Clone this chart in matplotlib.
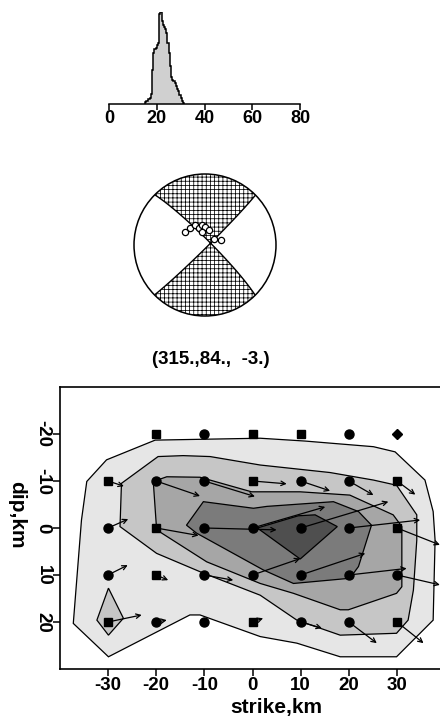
import numpy as np
import matplotlib
matplotlib.use('Agg')
import matplotlib.pyplot as plt
from matplotlib.patches import Polygon, Circle

plt.rcParams['font.family'] = ['Liberation Sans', 'DejaVu Sans']
plt.rcParams['font.weight'] = 'bold'
plt.rcParams['hatch.linewidth'] = 0.55

# ---------------- data ----------------
# histogram (top)
hist_edges = [15.0, 15.5, 16.0, 16.5, 17.0, 17.5, 18.0, 18.5, 19.0, 19.5, 20.0,
              20.5, 21.0, 21.5, 22.0, 22.5, 23.0, 23.5, 24.0, 24.5, 25.0, 25.5,
              26.0, 26.5, 27.0, 27.5, 28.0, 28.5, 29.0, 29.5, 30.0, 30.5, 31.0, 31.5]
hist_counts = [5, 8, 10, 14, 18, 30, 103, 155, 165, 170, 178, 185, 272, 278,
               250, 238, 232, 226, 213, 185, 153, 113, 80, 72, 68, 62, 53, 46,
               38, 28, 18, 10, 4]
hist_ticks = [0, 20, 40, 60, 80]

# focal mechanism (strike, dip, rake)
bb_strike, bb_dip, bb_rake = 315.0, 84.0, -3.0
bb_pts_x = [-0.28, -0.21, -0.14, -0.09, -0.04, 0.00, 0.05, -0.04, 0.12, 0.23]
bb_pts_y = [0.19, 0.24, 0.28, 0.24, 0.28, 0.26, 0.21, 0.19, 0.09, 0.07]

# slip contour polygons (strike km, dip km), lowest level first
lev1_x = [-20.2, 1.6, 10.9, 16.8, 25.1, 29.6, 35.8, 37.5, 37.9, 37.5, 29.9, 18.2,
          9.2, 1.6, -10.9, -13.0, -29.9, -37.2, -35.5, -34.4, -30.3]
lev1_y = [-18.7, -19.1, -18.5, -18.0, -17.3, -16.2, -10.2, -3.5, 2.6, 19.6, 27.4,
          27.4, 24.5, 23.1, 18.5, 18.5, 27.4, 20.3, -1.7, -9.9, -14.5]
lev2_x = [-27.2, -19.6, -14.4, -8.8, 1.6, 16.1, 25.1, 29.9, 34.1, 34.1, 33.4, 32.3,
          29.9, 18.2, 9.2, 1.6, -10.2, -19.9, -27.5]
lev2_y = [-9.5, -15.2, -15.4, -15.2, -13.4, -11.8, -10.2, -9.1, -2.8, 2.6, 13.2,
          19.6, 22.4, 22.8, 19.6, 14.3, 9.6, 5.4, -0.3]
lev2b_x = [-29.9, -26.8, -29.9, -32.3]
lev2b_y = [12.8, 19.2, 22.8, 19.6]
lev3_x = [-20.6, -17.8, -10.9, -0.2, 9.9, 20.2, 29.2, 31.0, 31.0, 29.9, 19.9, 18.2,
          8.5, 1.6, -9.5, -19.9]
lev3_y = [-9.9, -10.9, -10.8, -7.7, -7.7, -7.0, -2.8, -0.3, 12.5, 13.9, 17.4, 17.4,
          13.9, 11.8, 7.2, 0.4]
lev4_x = [-10.2, 0.2, 3.0, 16.8, 22.0, 24.7, 22.0, 20.2, 8.5, 2.2, -11.6, -13.7]
lev4_y = [-5.6, -4.2, -4.6, -5.6, -3.5, -0.6, 8.2, 10.7, 11.8, 8.9, 1.1, -0.6]
lev5_x = [1.0, 9.5, 13.0, 17.6, 9.9]
lev5_y = [0.0, -2.6, -2.8, -0.3, 6.6]
lev_colors = ['#e6e6e6', '#c6c6c6', '#a6a6a6', '#7b7b7b', '#4f4f4f']

# grid nodes with slip vectors
pt_strike = [-20, -10, 0, 10, 20, 30,
             -30, -20, -10, 0, 10, 20, 30,
             -30, -20, -10, 0, 10, 20, 30,
             -30, -20, -10, 0, 10, 20, 30,
             -30, -20, -10, 0, 10, 20, 30]
pt_dip = [-20] * 6 + [-10] * 7 + [0] * 7 + [10] * 7 + [20] * 7
pt_shape = ['s', 'o', 's', 's', 'o', 'D',
            's', 'o', 'o', 's', 'o', 'o', 's',
            'o', 's', 'o', 'o', 'o', 'o', 's',
            'o', 's', 'o', 'o', 'o', 'o', 'o',
            's', 'o', 'o', 's', 'o', 'o', 's']
slip_dx = [0, 0, 0, 0, 0, 0,
           3.3, 9.1, 10.5, 7.1, 6.1, 5.1, 3.8,
           4.2, 8.8, 15.0, 15.1, 18.2, 14.8, 8.9,
           4.1, 2.5, 6.0, 9.9, 13.4, 12.0, 8.9,
           7.0, 2.2, 0, 2.2, 4.4, 5.8, 5.5]
slip_dy = [0, 0, 0, 0, 0, 0,
           1.1, 3.2, 3.3, 0.6, 2.1, 3.0, 2.9,
           -1.9, 1.6, 0.4, -4.5, -5.6, -1.7, 3.6,
           -2.1, 1.1, 1.1, -3.5, -4.6, -1.4, 2.1,
           -1.5, -0.4, 0, -0.8, 1.3, 4.5, 4.5]
main_xticks = [-30, -20, -10, 0, 10, 20, 30]
main_yticks = [-20, -10, 0, 10, 20]

# ---------------- figure ----------------
W, H = 440, 719
fig = plt.figure(figsize=(W / 100, H / 100), dpi=100)


def px_axes(l, t, r, b):
    return fig.add_axes([l / W, 1 - b / H, (r - l) / W, (b - t) / H])


# ---- histogram ----
axh = px_axes(109, 11.7, 300, 104)
axh.stairs(hist_counts, hist_edges, fill=True, facecolor='#d0d0d0', edgecolor='none')
axh.stairs(hist_counts, hist_edges, fill=False, color='black', lw=1.1)
axh.set_xlim(0, 80)
axh.set_ylim(0, max(hist_counts))
for s in ['top', 'right', 'left']:
    axh.spines[s].set_visible(False)
axh.spines['bottom'].set_linewidth(1.1)
axh.set_yticks([])
axh.set_xticks(hist_ticks)
axh.set_xticklabels([str(t) for t in hist_ticks], fontsize=13, fontweight='bold')
axh.tick_params(axis='x', length=4, width=1.1, pad=0.5)
axh.patch.set_visible(False)

# ---- beachball ----
R_PX = 71
axb = px_axes(205 - 75, 245 - 75, 205 + 75, 245 + 75)
axb.set_xlim(-75 / R_PX, 75 / R_PX)
axb.set_ylim(-75 / R_PX, 75 / R_PX)
axb.axis('off')

s_, d_, r_ = np.radians([bb_strike, bb_dip, bb_rake])
nvec = np.array([-np.sin(d_) * np.sin(s_), np.sin(d_) * np.cos(s_), -np.cos(d_)])
svec = np.array([np.cos(r_) * np.cos(s_) + np.sin(r_) * np.cos(d_) * np.sin(s_),
                 np.cos(r_) * np.sin(s_) - np.sin(r_) * np.cos(d_) * np.cos(s_),
                 -np.sin(r_) * np.sin(d_)])
Mt = np.outer(nvec, svec) + np.outer(svec, nvec)
g = np.linspace(-1.06, 1.06, 501)
GX, GY = np.meshgrid(g, g)
rho = np.clip(np.hypot(GX, GY), 0, np.sqrt(2) - 1e-6)
inc = 2 * np.arcsin(rho / np.sqrt(2))
az = np.arctan2(GX, GY)
rv = np.stack([np.sin(inc) * np.cos(az), np.sin(inc) * np.sin(az), np.cos(inc)])
Z = np.einsum('i...,ij,j...->...', rv, Mt, rv)

clip_c = Circle((0, 0), 1.0, transform=axb.transData)
cf = axb.contourf(GX, GY, Z, levels=[0, Z.max() + 1], colors='none', hatches=['++++'])
cf.set_clip_path(clip_c)
cl = axb.contour(GX, GY, Z, levels=[0], colors='black', linewidths=1.0)
cl.set_clip_path(clip_c)
axb.add_patch(Circle((0, 0), 1.0, fill=False, edgecolor='black', lw=1.1))
axb.plot(bb_pts_x, bb_pts_y, 'o', ms=4.5, mfc='white', mec='black', mew=0.9)

fig.text(211 / W, 1 - 359 / H, f"({bb_strike:.0f}.,{bb_dip:.0f}., {bb_rake:3.0f}.)",
         ha='center', va='center', fontsize=13.5, fontweight='bold')

# ---- main slip map ----
ax = px_axes(59.8, 387, 445.2, 669)
ax.set_xlim(-40, 40)
ax.set_ylim(30, -30)
levels_xy = [(lev1_x, lev1_y, 0), (lev2_x, lev2_y, 1), (lev2b_x, lev2b_y, 1),
             (lev3_x, lev3_y, 2), (lev4_x, lev4_y, 3), (lev5_x, lev5_y, 4)]
for lx, ly, ci in levels_xy:
    ax.add_patch(Polygon(np.column_stack([lx, ly]), closed=True,
                         facecolor=lev_colors[ci], edgecolor='black', lw=0.9, zorder=1))

for x0, y0, dx, dy in zip(pt_strike, pt_dip, slip_dx, slip_dy):
    if dx == 0 and dy == 0:
        continue
    ax.annotate('', xy=(x0 + dx, y0 + dy), xytext=(x0, y0),
                arrowprops=dict(arrowstyle='->', lw=0.9, color='black',
                                mutation_scale=8, shrinkA=0, shrinkB=0),
                zorder=3, annotation_clip=False)

msize = {'s': 6.0, 'o': 6.5, 'D': 5.5}
for shp in ['s', 'o', 'D']:
    xs = [x for x, m in zip(pt_strike, pt_shape) if m == shp]
    ys = [y for y, m in zip(pt_dip, pt_shape) if m == shp]
    ax.plot(xs, ys, linestyle='none', marker=shp, ms=msize[shp], color='black', zorder=4)

ax.set_xticks(main_xticks)
ax.set_xticklabels([str(t) for t in main_xticks], fontsize=13.5, fontweight='bold')
ax.set_yticks(main_yticks)
ax.set_yticklabels([str(t) for t in main_yticks], fontsize=13.5, fontweight='bold',
                   rotation=270, va='center')
ax.tick_params(axis='both', length=5, width=1.1, pad=1)
for s in ax.spines.values():
    s.set_linewidth(1.2)

fig.text(276 / W, 1 - 708 / H, 'strike,km', ha='center', va='center',
         fontsize=15, fontweight='bold')
fig.text(17 / W, 1 - 515 / H, 'dip,km', ha='center', va='center', rotation=270,
         fontsize=15, fontweight='bold')

fig.savefig('out.png', dpi=100)
